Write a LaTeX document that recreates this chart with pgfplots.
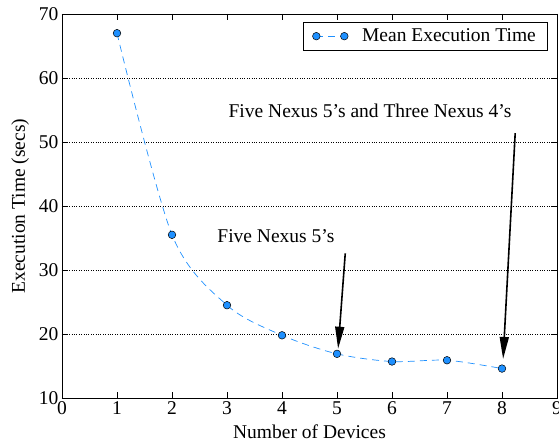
\documentclass[border=0pt]{standalone}
\usepackage{fontspec}
\setmainfont{Liberation Serif}
\usepackage{pgfplots}
\pgfplotsset{compat=1.18}
\usetikzlibrary{arrows.meta,calc}
\definecolor{dblue}{HTML}{1E90FF}
\begin{document}
\begin{tikzpicture}[font=\fontsize{19.5}{23}\selectfont]
\begin{axis}[
  scale only axis, width=495pt, height=384pt,
  xmin=0, xmax=9, ymin=10, ymax=70,
  xtick={0,...,9}, ytick={10,20,...,70},
  /pgf/number format/assume math mode=true,
  tick align=inside, major tick length=6pt,
  tick style={black, line width=0.6pt},
  axis line style={line width=0.8pt},
  ymajorgrids, major grid style={dotted, black, line width=0.7pt},
  xlabel={Number of Devices}, ylabel={Execution Time (secs)},
  xlabel style={yshift=-3pt}, ylabel style={yshift=3pt},
  legend style={at={(0.98,0.98)}, anchor=north east, draw=black, line width=0.6pt,
    inner xsep=9pt, inner ysep=5pt, column sep=12pt, legend cell align=left},
  legend image code/.code={\draw[#1, mark repeat=1] plot coordinates {(0pt,0pt) (28pt,0pt)};},
]
\addplot[smooth, color=dblue, line width=0.7pt, dash pattern=on 7pt off 5pt,
  mark=*, mark size=3.8pt, mark options={solid, fill=dblue, draw=black, line width=0.5pt}]
  coordinates {(1,67.0) (2,35.5) (3,24.5) (4,19.8) (5,16.9) (6,15.7) (7,15.9) (8,14.6)};
\addlegendentry{Mean Execution Time}
\node at (axis cs:5.6,54.8) {Five Nexus 5's and Three Nexus 4's};
\node at (axis cs:3.89,35.3) {Five Nexus 5's};
\draw[line width=1.6pt, -{Triangle[length=22pt,width=9pt]}] (axis cs:8.24,51.4) -- (axis cs:8.02,16.1);
\draw[line width=1.6pt, -{Triangle[length=22pt,width=9pt]}] (axis cs:5.15,32.6) -- (axis cs:5.02,17.7);
\end{axis}
\pgfresetboundingbox
\path[use as bounding box] ($(current axis.south west)+(-62pt,-46pt)$) rectangle ($(current axis.north east)+(2pt,14pt)$);
\end{tikzpicture}
\end{document}
